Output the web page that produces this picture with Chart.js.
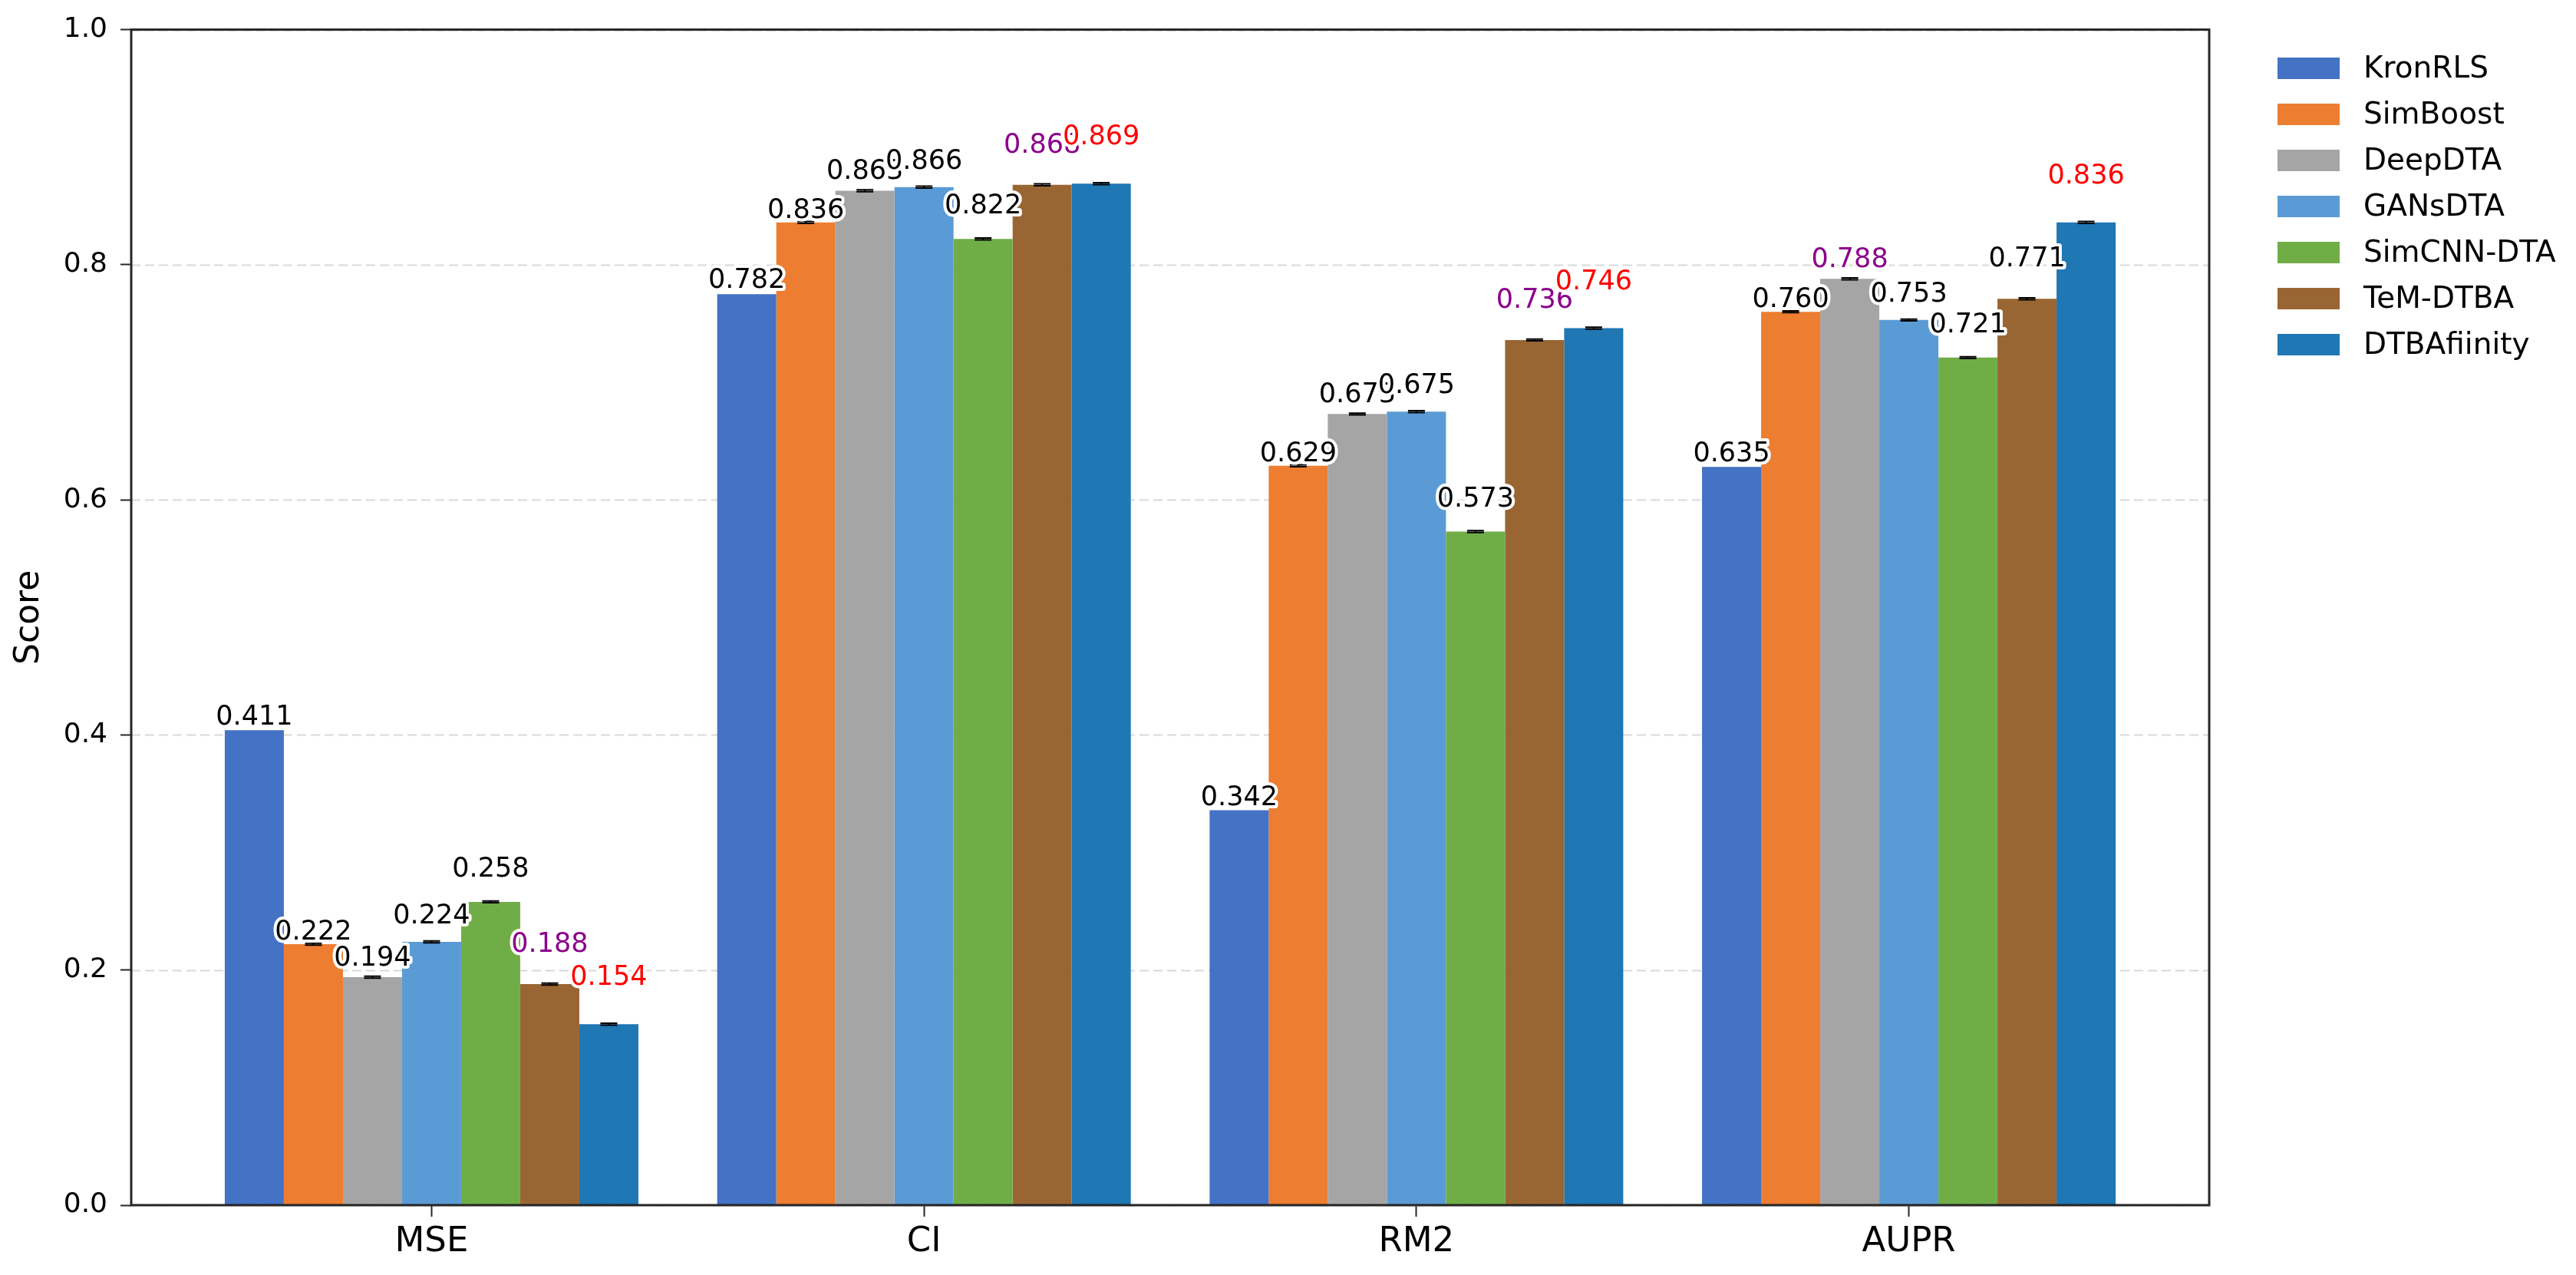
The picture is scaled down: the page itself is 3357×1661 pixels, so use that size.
<!DOCTYPE html>
<html>
<head>
<meta charset="utf-8">
<script src="https://cdn.jsdelivr.net/npm/chart.js@4.4.1/dist/chart.umd.min.js"></script>
<style>
  html, body { margin: 0; padding: 0; background: #fff; }
  #wrap { width: 3357px; height: 1661px; position: relative; }
</style>
</head>
<body>
<div id="wrap"><canvas id="chart"></canvas></div>
<script>
  // metrics on the x axis
  const METRICS = ['MSE', 'CI', 'RM2', 'AUPR'];
  const LOWER_IS_BETTER = ['MSE'];

  // scores per model (as printed above the bars)
  const MODELS = ['KronRLS', 'SimBoost', 'DeepDTA', 'GANsDTA', 'SimCNN-DTA', 'TeM-DTBA', 'DTBAfiinity'];
  const KRONRLS     = [0.411, 0.782, 0.342, 0.635];
  const SIMBOOST    = [0.222, 0.836, 0.629, 0.760];
  const DEEPDTA     = [0.194, 0.863, 0.673, 0.788];
  const GANSDTA     = [0.224, 0.866, 0.675, 0.753];
  const SIMCNN_DTA  = [0.258, 0.822, 0.573, 0.721];
  const TEM_DTBA    = [0.188, 0.868, 0.736, 0.771];
  const DTBAFIINITY = [0.154, 0.869, 0.746, 0.836];

  // KronRLS bars are drawn a bit below their printed value in the figure
  const KRONRLS_BAR = [0.404, 0.775, 0.336, 0.628];

  // tiny std shown as error caps (none for KronRLS)
  const STD = [null, 0.0008, 0.0008, 0.0008, 0.0008, 0.0008, 0.0008];

  const Y_TICKS = [0, 0.2, 0.4, 0.6, 0.8, 1.0];

  const COLORS = ['#4472c4', '#ed7d31', '#a5a5a5', '#5b9bd5', '#70ad47', '#996633', '#1f77b4'];
  const LABEL_COLORS = { best: '#ff0000', second: '#8b008b', other: '#000000' };
  const FONT = '"DejaVu Sans", "Liberation Sans", sans-serif';

  const SCORES = [KRONRLS, SIMBOOST, DEEPDTA, GANSDTA, SIMCNN_DTA, TEM_DTBA, DTBAFIINITY];
  const BARS = [KRONRLS_BAR, SIMBOOST, DEEPDTA, GANSDTA, SIMCNN_DTA, TEM_DTBA, DTBAFIINITY];

  function rankColor(mi, j) {
    const col = SCORES.map(s => s[j]);
    const sorted = col.slice().sort((a, b) => LOWER_IS_BETTER.includes(METRICS[j]) ? a - b : b - a);
    const v = SCORES[mi][j];
    if (v === sorted[0]) return LABEL_COLORS.best;
    if (v === sorted[1]) return LABEL_COLORS.second;
    return LABEL_COLORS.other;
  }

  const whiteBg = {
    id: 'whiteBg',
    beforeDraw(chart) {
      const ctx = chart.ctx;
      ctx.save();
      ctx.fillStyle = '#fff';
      ctx.fillRect(0, 0, chart.width, chart.height);
      ctx.restore();
    },
  };

  // dashed horizontal grid behind the bars
  const gridLines = {
    id: 'gridLines',
    beforeDatasetsDraw(chart) {
      const { ctx, chartArea: a, scales: { y } } = chart;
      ctx.save();
      ctx.strokeStyle = '#d9d9d9';
      ctx.lineWidth = 2;
      ctx.setLineDash([12, 6]);
      Y_TICKS.forEach(t => {
        const py = Math.round(y.getPixelForValue(t)) + 0.5;
        ctx.beginPath();
        ctx.moveTo(a.left, py);
        ctx.lineTo(a.right, py);
        ctx.stroke();
      });
      ctx.restore();
    },
  };

  // error caps, frame, value labels and legend
  const overlay = {
    id: 'overlay',
    afterDatasetsDraw(chart) {
      const { ctx, chartArea: a, scales: { y } } = chart;

      ctx.save();
      ctx.strokeStyle = '#000';
      ctx.lineWidth = 2;
      chart.data.datasets.forEach((ds, i) => {
        if (STD[i] == null) return;
        chart.getDatasetMeta(i).data.forEach((bar, j) => {
          const v = BARS[i][j];
          const y1 = y.getPixelForValue(v - STD[i]);
          const y2 = y.getPixelForValue(v + STD[i]);
          ctx.beginPath();
          ctx.moveTo(bar.x, y1); ctx.lineTo(bar.x, y2);
          ctx.moveTo(bar.x - 11, y1); ctx.lineTo(bar.x + 11, y1);
          ctx.moveTo(bar.x - 11, y2); ctx.lineTo(bar.x + 11, y2);
          ctx.stroke();
        });
      });
      ctx.restore();

      // frame
      ctx.save();
      ctx.strokeStyle = '#262626';
      ctx.lineWidth = 3;
      ctx.strokeRect(a.left, a.top, a.right - a.left, a.bottom - a.top);
      ctx.restore();

      // value labels with white halo, stepped up per model
      ctx.save();
      ctx.font = '35px ' + FONT;
      ctx.textAlign = 'center';
      ctx.textBaseline = 'alphabetic';
      ctx.lineJoin = 'round';
      chart.data.datasets.forEach((ds, i) => {
        chart.getDatasetMeta(i).data.forEach((bar, j) => {
          const v = SCORES[i][j];
          const py = y.getPixelForValue(v) - (9 * i - 3);
          const txt = v.toFixed(3);
          ctx.strokeStyle = '#fff';
          ctx.lineWidth = 8;
          ctx.strokeText(txt, bar.x, py);
          ctx.fillStyle = rankColor(i, j);
          ctx.fillText(txt, bar.x, py);
        });
      });
      ctx.restore();

      // legend outside the axes
      ctx.save();
      ctx.font = '39px ' + FONT;
      ctx.textAlign = 'left';
      ctx.textBaseline = 'middle';
      MODELS.forEach((name, i) => {
        const cy = 89 + i * 60;
        ctx.fillStyle = COLORS[i];
        ctx.fillRect(2968, cy - 14, 81, 28);
        ctx.fillStyle = '#000';
        ctx.fillText(name, 3080, cy + 2);
      });
      ctx.restore();
    },
  };

  const datasets = MODELS.map((name, i) => ({
    label: name,
    data: BARS[i].map((v, j) => ({ x: j, y: v })),
    backgroundColor: COLORS[i],
    borderWidth: 0,
    barPercentage: 1,
    categoryPercentage: 0.84,
  }));

  new Chart(document.getElementById('chart'), {
    type: 'bar',
    data: { datasets },
    options: {
      responsive: true,
      maintainAspectRatio: false,
      animation: false,
      devicePixelRatio: 1,
      layout: { padding: { top: 37, right: 478, left: 0, bottom: 0 } },
      plugins: { legend: { display: false }, tooltip: { enabled: false } },
      scales: {
        x: {
          type: 'linear',
          min: -0.61,
          max: 3.61,
          offset: false,
          afterBuildTicks: (axis) => { axis.ticks = METRICS.map((_, i) => ({ value: i })); },
          afterFit: (axis) => { axis.height = 91; },
          grid: {
            offset: false,
            drawOnChartArea: false, drawTicks: true, tickLength: 15,
            tickColor: '#262626', tickWidth: 2, tickBorderDash: [],
          },
          border: { display: false },
          ticks: {
            callback: (v) => METRICS[v] ?? '',
            font: { family: FONT, size: 45 },
            color: '#000',
            padding: 6,
            maxRotation: 0,
            autoSkip: false,
          },
        },
        y: {
          min: 0,
          max: 1,
          afterBuildTicks: (axis) => { axis.ticks = Y_TICKS.map(v => ({ value: v })); },
          afterFit: (axis) => { axis.width = 171; },
          grid: {
            drawOnChartArea: false, drawTicks: true, tickLength: 14,
            tickColor: '#262626', tickWidth: 2, tickBorderDash: [],
          },
          border: { display: false },
          ticks: {
            callback: (v) => Number(v).toFixed(1),
            font: { family: FONT, size: 36 },
            color: '#000',
            padding: 17,
          },
          title: {
            display: true,
            text: 'Score',
            font: { family: FONT, size: 44 },
            color: '#000',
            padding: { top: 12, bottom: 0 },
          },
        },
      },
    },
    plugins: [whiteBg, gridLines, overlay],
  });
</script>
</body>
</html>
